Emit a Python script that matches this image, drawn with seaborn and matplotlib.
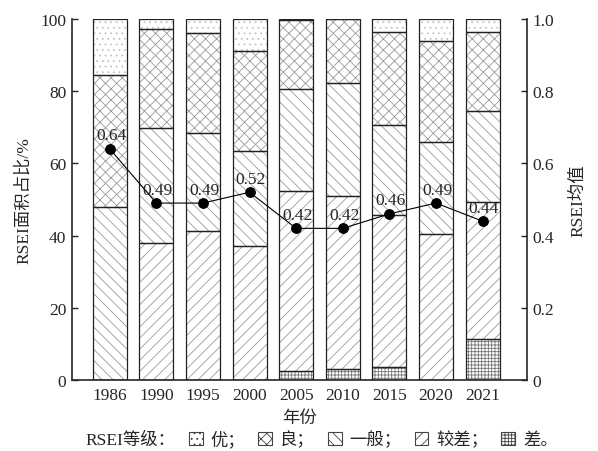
import matplotlib
matplotlib.use("Agg")
import matplotlib.pyplot as plt
import seaborn as sns
import numpy as np
from matplotlib.patches import Rectangle

years = ["1986", "1990", "1995", "2000", "2005", "2010", "2015", "2020", "2021"]
# area share (%) per RSEI grade, bottom to top
cha = [0.0, 0.0, 0.0, 0.0, 2.5, 3.0, 3.5, 0.0, 11.3]           # 差
jiaocha = [0.0, 37.9, 41.2, 37.1, 49.8, 47.9, 42.3, 40.5, 38.0]  # 较差
yiban = [47.8, 31.8, 27.1, 26.4, 28.2, 31.4, 24.8, 25.3, 25.2]   # 一般
liang = [36.8, 27.4, 27.7, 27.6, 19.3, 17.7, 25.8, 28.0, 22.0]   # 良
you = [15.4, 2.9, 4.0, 8.9, 0.2, 0.0, 3.6, 6.2, 3.5]             # 优
mean_rsei = [0.64, 0.49, 0.49, 0.52, 0.42, 0.42, 0.46, 0.49, 0.44]
grade_labels = ["优；", "良；", "一般；", "较差；", "差。"]

sns.set_style("ticks")
plt.rcParams["font.family"] = ["Liberation Serif", "Noto Sans CJK SC"]
plt.rcParams["hatch.linewidth"] = 0.6
plt.rcParams["axes.unicode_minus"] = False

FS = 12.5
fig = plt.figure(figsize=(5.98, 4.52), dpi=100)
ax = fig.add_axes([0.120, 0.157, 0.761, 0.799])

layers = [
    (cha, "+++++", "#777777"),
    (jiaocha, "///", "#9a9a9a"),
    (yiban, "\\\\\\", "#9a9a9a"),
    (liang, "xxx", "#9a9a9a"),
    (you, "...", "#c4c4c4"),
]
bw = 0.73
xpos = np.arange(len(years))
bottom = np.zeros(len(years))
for vals, hatch, hc in layers:
    vals = np.array(vals)
    sns.barplot(x=years, y=vals, bottom=bottom, color="white", saturation=1,
                edgecolor=hc, linewidth=0, hatch=hatch, width=bw,
                errorbar=None, ax=ax)
    bottom = bottom + vals
# outlines
bottom = np.zeros(len(years))
for vals, hatch, hc in layers:
    vals = np.array(vals)
    ax.bar(xpos, vals, bottom=bottom, width=bw, fill=False,
           edgecolor="#222222", linewidth=0.9, zorder=3)
    bottom = bottom + vals

ax.set_xlim(-0.815, 8.95)
ax.set_ylim(0, 100)
ax.set_yticks([0, 20, 40, 60, 80, 100])
ax.set_yticklabels(["0", "20", "40", "60", "80", "100"])
ax.tick_params(axis="y", direction="in", length=4, labelsize=FS, width=1, pad=4)
ax.tick_params(axis="x", length=0, labelsize=FS, pad=5)
ax.set_xlabel("年份", fontsize=FS, labelpad=5)
ax.set_ylabel("RSEI面积占比/%", fontsize=FS, labelpad=6)
for s in ["left", "bottom"]:
    ax.spines[s].set_linewidth(1.2)
ax.spines["top"].set_visible(False)
ax.spines["right"].set_visible(False)

ax2 = ax.twinx()
sns.lineplot(x=xpos, y=mean_rsei, ax=ax2, color="black", linewidth=0.8,
             marker="o", markersize=7, markeredgecolor="black", zorder=5)
ax2.set_ylim(0, 1)
ax2.set_xlim(-0.815, 8.95)
ax2.set_yticks([0, 0.2, 0.4, 0.6, 0.8, 1.0])
ax2.set_yticklabels(["0", "0.2", "0.4", "0.6", "0.8", "1.0"])
ax2.tick_params(axis="y", direction="in", length=4, labelsize=FS, width=1, pad=4)
ax2.set_ylabel("RSEI均值", fontsize=FS, labelpad=12)
ax2.spines["top"].set_visible(False)
ax2.spines["left"].set_visible(False)
ax2.spines["bottom"].set_visible(False)
ax2.spines["right"].set_linewidth(1.2)
for x, v in zip(xpos, mean_rsei):
    ax2.annotate(f"{v:.2f}", (x, v), xytext=(1, 4), textcoords="offset points",
                 ha="center", va="bottom", fontsize=FS, zorder=6)

handles = [Rectangle((0, 0), 1, 1, fill=False, edgecolor="none", linewidth=0)]
labels = ["RSEI等级："]
for (vals, hatch, hc), lab in zip(layers[::-1], grade_labels):
    handles.append(Rectangle((0, 0), 1, 1, facecolor="white", edgecolor="#444444",
                             hatch=hatch, linewidth=0.8))
    labels.append(lab)
fig.legend(handles, labels, ncol=6, loc="center", bbox_to_anchor=(0.52, 0.026),
           frameon=False, fontsize=FS, handlelength=0.8, handleheight=0.8,
           handletextpad=0.45, columnspacing=0.75, borderpad=0)

fig.savefig("out.png", dpi=100)
